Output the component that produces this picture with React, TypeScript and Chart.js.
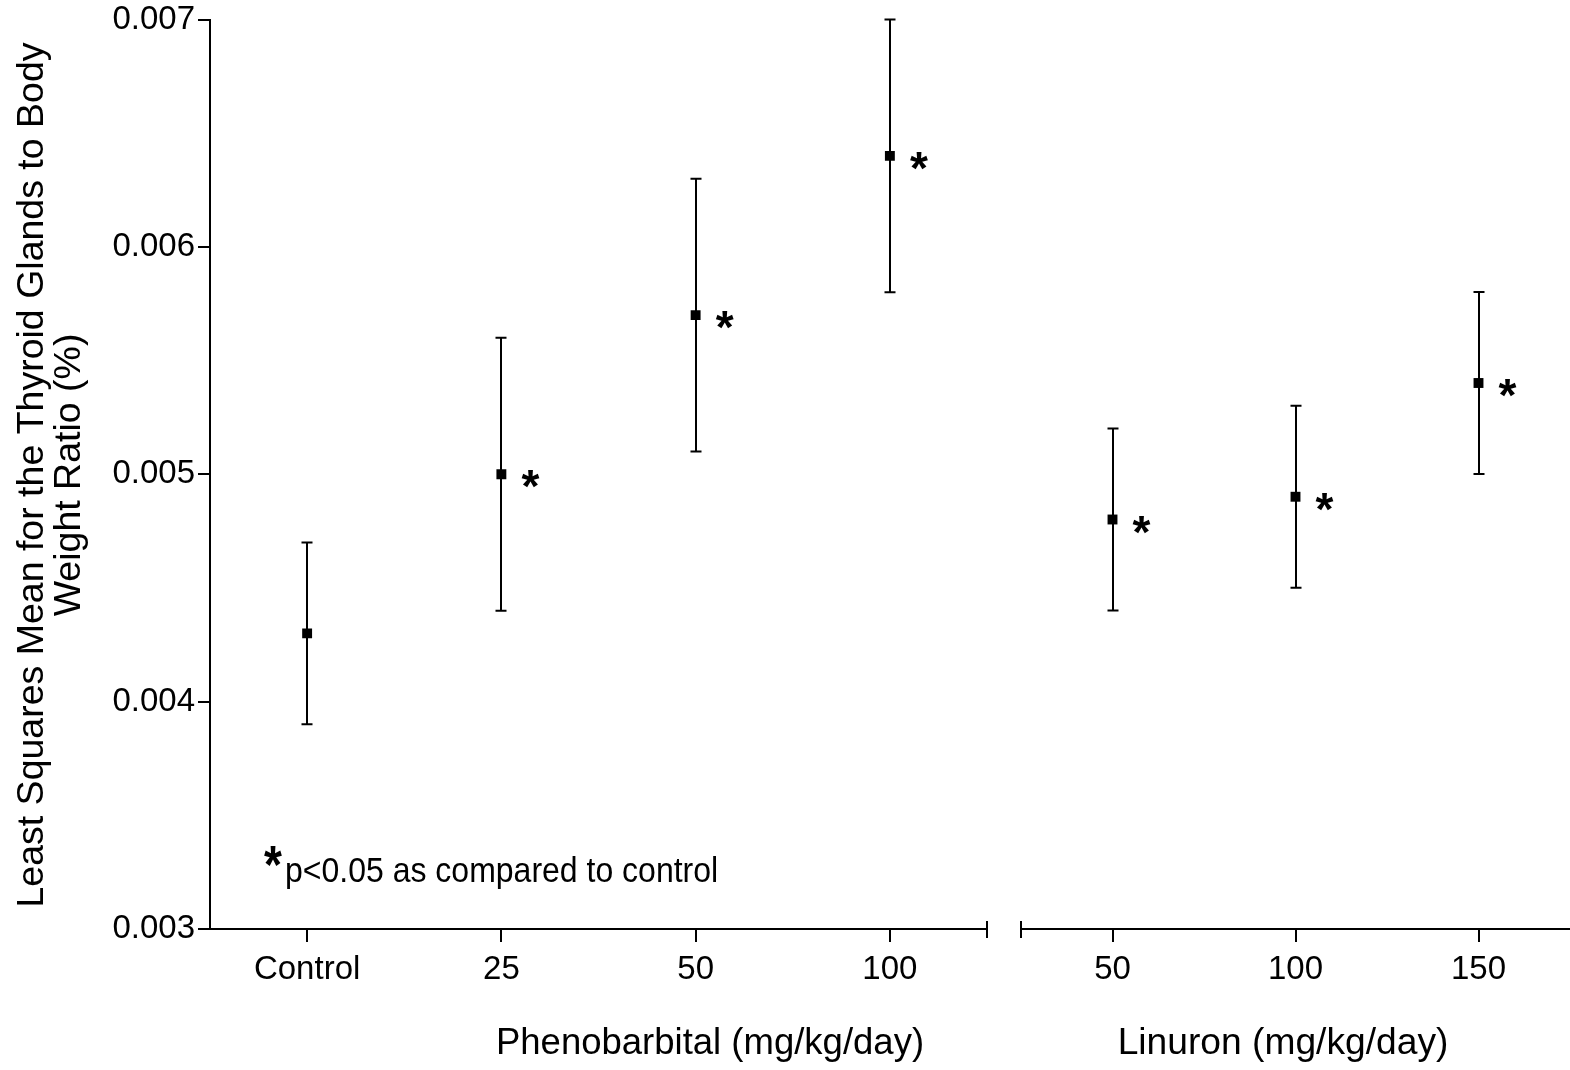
import React, { useEffect, useRef } from "react";
import { Chart, registerables } from "chart.js";

Chart.register(...registerables);

const phenoLabels = ["Control", "25", "50", "100"];
const phenoMean = [0.0043, 0.005, 0.0057, 0.0064];
const phenoLower = [0.0039, 0.0044, 0.0051, 0.0058];
const phenoUpper = [0.0047, 0.0056, 0.0063, 0.007];
const phenoSig = [false, true, true, true];

const linuronLabels = ["50", "100", "150"];
const linuronMean = [0.0048, 0.0049, 0.0054];
const linuronLower = [0.0044, 0.0045, 0.005];
const linuronUpper = [0.0052, 0.0053, 0.0058];
const linuronSig = [true, true, true];

const yMin = 0.003;
const yMax = 0.007;
const yStep = 0.001;

const yTitle = ["Least Squares Mean for the Thyroid Glands to Body", "Weight Ratio (%)"];
const phenoTitle = "Phenobarbital (mg/kg/day)";
const linuronTitle = "Linuron (mg/kg/day)";
const footnote = "p<0.05 as compared to control";

const FONT = '"Liberation Sans", Arial, sans-serif';

function drawStar(ctx: CanvasRenderingContext2D, cx: number, cy: number, sy = 1) {
  ctx.save();
  ctx.font = `bold 46px ${FONT}`;
  ctx.textAlign = "left";
  ctx.textBaseline = "alphabetic";
  const m = ctx.measureText("*");
  ctx.translate(cx, cy);
  ctx.scale(1, sy);
  const bx = -(m.actualBoundingBoxRight - m.actualBoundingBoxLeft) / 2 + m.actualBoundingBoxLeft;
  const by = (m.actualBoundingBoxAscent - m.actualBoundingBoxDescent) / 2;
  ctx.fillStyle = "#000";
  ctx.fillText("*", bx, by);
  ctx.restore();
}

function makePlugin(
  lower: number[],
  upper: number[],
  sig: boolean[],
  mean: number[],
  side: "left" | "right",
  title: string,
  titleX: number,
  titleSize: number,
  extra?: (chart: any) => void
) {
  return {
    id: "annot",
    beforeDatasetsDraw(chart: any) {
      const { ctx } = chart;
      const xs = chart.scales.x;
      const ys = chart.scales.y;
      ctx.save();
      ctx.strokeStyle = "#000";
      ctx.lineWidth = 2;
      lower.forEach((lo, i) => {
        const px = Math.round(xs.getPixelForValue(i));
        const yl = ys.getPixelForValue(lo);
        const yu = ys.getPixelForValue(upper[i]);
        ctx.beginPath();
        ctx.moveTo(px, yl);
        ctx.lineTo(px, yu);
        ctx.moveTo(px - 5.5, yl);
        ctx.lineTo(px + 5.5, yl);
        ctx.moveTo(px - 5.5, yu);
        ctx.lineTo(px + 5.5, yu);
        ctx.stroke();
      });
      ctx.restore();
    },
    afterDraw(chart: any) {
      const { ctx, chartArea } = chart;
      const xs = chart.scales.x;
      const ys = chart.scales.y;
      sig.forEach((s, i) => {
        if (!s) return;
        const px = xs.getPixelForValue(i);
        const py = ys.getPixelForValue(mean[i]);
        drawStar(ctx, px + 29, py + 5);
      });
      ctx.save();
      ctx.strokeStyle = "#000";
      ctx.lineWidth = 2;
      const bx = side === "right" ? chartArea.right : chartArea.left;
      ctx.beginPath();
      ctx.moveTo(bx, chartArea.bottom - 8);
      ctx.lineTo(bx, chartArea.bottom + 9);
      ctx.stroke();
      ctx.restore();
      ctx.save();
      ctx.fillStyle = "#000";
      ctx.font = `${titleSize}px ${FONT}`;
      ctx.textAlign = "center";
      ctx.textBaseline = "alphabetic";
      ctx.fillText(title, titleX, 1054);
      ctx.restore();
      if (extra) extra(chart);
    },
  };
}

function extraLeft(chart: any) {
  const { ctx } = chart;
  ctx.save();
  ctx.fillStyle = "#000";
  ctx.font = `37.5px ${FONT}`;
  ctx.textAlign = "center";
  ctx.textBaseline = "alphabetic";
  ctx.translate(43, 475);
  ctx.rotate(-Math.PI / 2);
  ctx.fillText(yTitle[0], 0, 0);
  ctx.fillText(yTitle[1], 0, 37);
  ctx.restore();
  drawStar(ctx, 273, 857, 1.15);
  ctx.save();
  ctx.fillStyle = "#000";
  ctx.font = `32px ${FONT}`;
  ctx.textAlign = "left";
  ctx.textBaseline = "alphabetic";
  ctx.translate(285, 882);
  ctx.scale(1, 1.1);
  ctx.fillText(footnote, 0, 0);
  ctx.restore();
}

function baseOptions(showY: boolean, padding: any, yWidth: number) {
  return {
    responsive: false,
    animation: false as const,
    layout: { padding, autoPadding: false },
    plugins: { legend: { display: false }, tooltip: { enabled: false }, title: { display: false } },
    scales: {
      x: {
        type: "category" as const,
        offset: true,
        grid: {
          offset: false,
          drawOnChartArea: false,
          drawTicks: true,
          tickLength: 13,
          color: "#000",
          lineWidth: 2,
        },
        border: { display: true, color: "#000", width: 2 },
        ticks: { color: "#000", font: { family: FONT, size: 33 }, padding: 8, maxRotation: 0, autoSkip: false },
        afterFit: (scale: any) => {
          scale.height = 141;
        },
      },
      y: {
        display: showY,
        min: yMin,
        max: yMax,
        grid: { drawOnChartArea: false, tickLength: 12, color: "#000", lineWidth: 2 },
        border: { display: true, color: "#000", width: 2 },
        ticks: {
          stepSize: yStep,
          color: "#000",
          font: { family: FONT, size: 33, lineHeight: 1 },
          padding: 3,
          callback: (v: any) => Number(v).toFixed(3),
        },
        afterFit: (scale: any) => {
          scale.width = yWidth;
        },
      },
    },
  };
}

export default function App() {
  const ref1 = useRef<HTMLCanvasElement | null>(null);
  const ref2 = useRef<HTMLCanvasElement | null>(null);

  useEffect(() => {
    document.body.style.margin = "0";
    const c1 = new Chart(ref1.current as HTMLCanvasElement, {
      type: "line",
      data: {
        labels: phenoLabels,
        datasets: [
          {
            data: phenoMean,
            showLine: false,
            pointStyle: "rect",
            pointRadius: 7,
            pointBorderWidth: 0,
            pointBackgroundColor: "#000",
            borderColor: "#000",
          },
        ],
      },
      options: baseOptions(true, { left: 0, right: 13, top: 19, bottom: 0 }, 210) as any,
      plugins: [makePlugin(phenoLower, phenoUpper, phenoSig, phenoMean, "right", phenoTitle, 710, 36.5, extraLeft)],
    });
    const c2 = new Chart(ref2.current as HTMLCanvasElement, {
      type: "line",
      data: {
        labels: linuronLabels,
        datasets: [
          {
            data: linuronMean,
            showLine: false,
            pointStyle: "rect",
            pointRadius: 7,
            pointBorderWidth: 0,
            pointBackgroundColor: "#000",
            borderColor: "#000",
          },
        ],
      },
      options: baseOptions(false, { left: 21, right: -3, top: 19, bottom: 0 }, 0) as any,
      plugins: [makePlugin(linuronLower, linuronUpper, linuronSig, linuronMean, "left", linuronTitle, 283, 37.2)],
    });
    return () => {
      c1.destroy();
      c2.destroy();
    };
  }, []);

  return (
    <div style={{ position: "absolute", left: 0, top: 0, width: 1570, height: 1070, background: "#fff" }}>
      <canvas ref={ref1} width={1000} height={1070} style={{ position: "absolute", left: 0, top: 0 }} />
      <canvas ref={ref2} width={570} height={1070} style={{ position: "absolute", left: 1000, top: 0 }} />
    </div>
  );
}
